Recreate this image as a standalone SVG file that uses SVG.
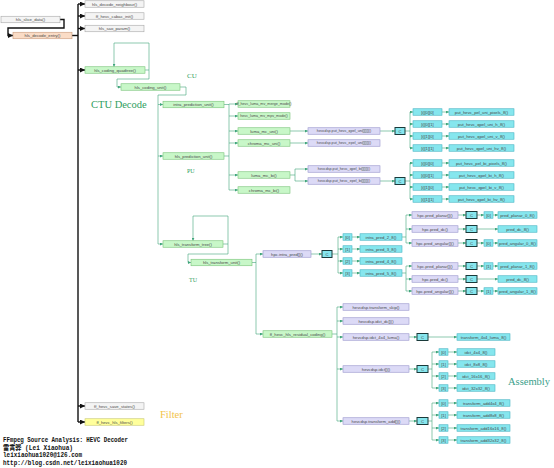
<svg xmlns="http://www.w3.org/2000/svg" width="554" height="468" viewBox="0 0 554 468">
<style>
rect{stroke-width:0.6}
.g{fill:#f4f4f4;stroke:#a8a8a8}
.o{fill:#fadcc6;stroke:#c89a7a}
.gr{fill:#c8f7c8;stroke:#78c478}
.p{fill:#dcdaf6;stroke:#9894cc}
.c{fill:#86e6ee;stroke:#48b4c4}
.cc{fill:#86e6ee;stroke:#1a3a3a;stroke-width:1}
.y{fill:#ffff9c;stroke:#c8c870}
text.t{font-family:"Liberation Sans",Arial,sans-serif;font-size:4.2px;fill:#4a4a4a;text-anchor:middle}
text.s{font-size:3.7px}
.lbl{font-family:"Liberation Serif","Times New Roman",serif;fill:#2f9e5e}
.ft{font-family:"Liberation Mono","Noto Sans CJK SC",monospace;font-size:7px;font-weight:bold;fill:#111}
.k{fill:none;stroke:#111;stroke-width:1.4}
.l{fill:none;stroke:#3fa57a;stroke-width:0.6}
.ka{fill:none;stroke:#111;stroke-width:1.4;marker-end:url(#ab)}
.la{fill:none;stroke:#3fa57a;stroke-width:0.6;marker-end:url(#ag)}
</style>
<defs>
<marker id="ab" viewBox="0 0 6 6" refX="6" refY="3" markerWidth="5" markerHeight="5" markerUnits="userSpaceOnUse" orient="auto"><path d="M0,0 L6,3 L0,6 z" fill="#111"/></marker>
<marker id="ag" viewBox="0 0 6 6" refX="6" refY="3" markerWidth="3" markerHeight="3" markerUnits="userSpaceOnUse" orient="auto"><path d="M0,0 L6,3 L0,6 z" fill="#3fa57a"/></marker>
</defs>
<rect width="554" height="468" fill="#fff"/>

<g id="connectors">
<path class="k" d="M78,4 V422"/>
<path class="ka" d="M78,4 H85"/><path class="ka" d="M78,16 H85"/><path class="ka" d="M78,28.5 H85"/><path class="ka" d="M78,70 H85"/><path class="ka" d="M78,406 H85"/><path class="ka" d="M78,422 H85"/>
<path class="k" d="M72,35.5 H78"/>
<path class="ka" d="M60,19.5 H64 V28 H8 V35.5 H13"/>

<path class="la" d="M145,70 H149 V43 H114 V66.75"/>
<path class="la" d="M149,70 V79 H117 V87 H121"/>
<path class="l" d="M180,87 H186 V95 H158 V244"/>
<path class="la" d="M158,104.5 H163"/><path class="la" d="M158,156 H163"/><path class="la" d="M158,244 H163"/>

<path class="l" d="M224,156 H229 M224,104.5 H229 M229,104 V190"/>
<path class="la" d="M229,104 H238"/><path class="la" d="M229,116 H238"/><path class="la" d="M229,131 H238"/><path class="la" d="M229,143 H238"/><path class="la" d="M229,175 H238"/><path class="la" d="M229,190 H238"/>
<path class="la" d="M290,131 H308"/><path class="la" d="M290,143 H308"/>
<path class="l" d="M290,175 H295 M295,169 V181"/>
<path class="la" d="M295,169 H308"/><path class="la" d="M295,181 H308"/>
<path class="la" d="M380,131 H395"/><path class="la" d="M380,181 H395"/>
<path class="l" d="M405,131 H410 M410,112 V148 M405,181 H410 M410,163 V199"/>
<path class="la" d="M410,112 H413"/><path class="la" d="M410,124 H413"/><path class="la" d="M410,136 H413"/><path class="la" d="M410,148 H413"/>
<path class="la" d="M410,163 H413"/><path class="la" d="M410,175 H413"/><path class="la" d="M410,187 H413"/><path class="la" d="M410,199 H413"/>
<path class="la" d="M442,112 H449"/><path class="la" d="M442,124 H449"/><path class="la" d="M442,136 H449"/><path class="la" d="M442,148 H449"/>
<path class="la" d="M442,163 H449"/><path class="la" d="M442,175 H449"/><path class="la" d="M442,187 H449"/><path class="la" d="M442,199 H449"/>

<path class="la" d="M223,244 H228 V216 H193 V240.75"/>
<path class="la" d="M228,244 V254 H188 V262.5 H191"/>
<path class="l" d="M252,262.5 H256 M256,254 V334"/>
<path class="la" d="M256,254 H263"/><path class="la" d="M256,334 H263"/>
<path class="la" d="M311,254 H322"/>
<path class="l" d="M332,254 H338 M338,237 V273"/>
<path class="la" d="M338,237 H343"/><path class="la" d="M338,249 H343"/><path class="la" d="M338,261 H343"/><path class="la" d="M338,273 H343"/>
<path class="la" d="M352,237 H360"/><path class="la" d="M352,249 H360"/><path class="la" d="M352,261 H360"/><path class="la" d="M352,273 H360"/>
<path class="l" d="M402,237 H406 M406,215 V243 M402,273 H406 M406,266 V291"/>
<path class="la" d="M406,215 H412"/><path class="la" d="M406,229 H412"/><path class="la" d="M406,243 H412"/>
<path class="la" d="M406,266 H412"/><path class="la" d="M406,279 H412"/><path class="la" d="M406,291 H412"/>
<path class="la" d="M458,215 H466"/><path class="la" d="M458,229 H466"/><path class="la" d="M458,243 H466"/>
<path class="la" d="M458,266 H466"/><path class="la" d="M458,279 H466"/><path class="la" d="M458,291 H466"/>
<path class="la" d="M477,215 H484"/><path class="la" d="M493,215 H498"/>
<path class="la" d="M477,229 H498"/>
<path class="la" d="M477,243 H484"/><path class="la" d="M493,243 H498"/>
<path class="la" d="M477,266 H484"/><path class="la" d="M493,266 H498"/>
<path class="la" d="M477,279 H498"/>
<path class="la" d="M477,291 H484"/><path class="la" d="M493,291 H498"/>

<path class="l" d="M332,334 H337 M337,307 V421"/>
<path class="la" d="M337,307 H343"/><path class="la" d="M337,321 H343"/><path class="la" d="M337,337 H343"/><path class="la" d="M337,369 H343"/><path class="la" d="M337,421 H343"/>
<path class="la" d="M409,337 H417"/><path class="la" d="M428,337 H457"/>
<path class="la" d="M409,369 H417"/><path class="la" d="M409,421 H417"/>
<path class="l" d="M428,369 H432 M432,352 V388 M428,421 H432 M432,403 V440"/>
<path class="la" d="M432,352 H439"/><path class="la" d="M432,364 H439"/><path class="la" d="M432,376 H439"/><path class="la" d="M432,388 H439"/>
<path class="la" d="M448,352 H457"/><path class="la" d="M448,364 H457"/><path class="la" d="M448,376 H457"/><path class="la" d="M448,388 H457"/>
<path class="la" d="M432,403 H439"/><path class="la" d="M432,415 H439"/><path class="la" d="M432,428 H439"/><path class="la" d="M432,440 H439"/>
<path class="la" d="M448,403 H457"/><path class="la" d="M448,415 H457"/><path class="la" d="M448,428 H457"/><path class="la" d="M448,440 H457"/>
</g>

<g id="slice_data"><rect class="g" x="1" y="16.25" width="59" height="6.5"/><text class="t" x="30.5" y="21.1">hls_slice_data()</text></g>
<g id="decode_entry"><rect class="o" x="13" y="32.25" width="59" height="6.5"/><text class="t" x="42.5" y="37.1">hls_decode_entry()</text></g>
<g id="decode_neighbour"><rect class="g" x="85" y="0.75" width="59" height="6.5"/><text class="t" x="114.5" y="5.6">hls_decode_neighbour()</text></g>
<g id="cabac_init"><rect class="g" x="85" y="12.75" width="59" height="6.5"/><text class="t" x="114.5" y="17.6">ff_hevc_cabac_init()</text></g>
<g id="sao_param"><rect class="g" x="85" y="25.25" width="59" height="6.5"/><text class="t" x="114.5" y="30.1">hls_sao_param()</text></g>
<g id="coding_quadtree"><rect class="gr" x="85" y="66.75" width="60" height="6.5"/><text class="t" x="115" y="71.6">hls_coding_quadtree()</text></g>
<g id="coding_unit"><rect class="gr" x="121" y="83.75" width="59" height="6.5"/><text class="t" x="150.5" y="88.6">hls_coding_unit()</text></g>
<g id="intra_prediction_unit"><rect class="gr" x="163" y="101.25" width="61" height="6.5"/><text class="t" x="193.5" y="106.1">intra_prediction_unit()</text></g>
<g id="prediction_unit"><rect class="gr" x="163" y="152.75" width="61" height="6.5"/><text class="t" x="193.5" y="157.6">hls_prediction_unit()</text></g>
<g id="mv_merge_mode"><rect class="gr" x="238" y="100.75" width="52" height="6.5"/><text class="t s" x="264" y="105.4">ff_hevc_luma_mv_merge_mode()</text></g>
<g id="mv_mvp_mode"><rect class="gr" x="238" y="112.75" width="52" height="6.5"/><text class="t s" x="264" y="117.4">hevc_luma_mv_mpv_mode()</text></g>
<g id="luma_mc_uni"><rect class="gr" x="238" y="127.75" width="52" height="6.5"/><text class="t" x="264" y="132.6">luma_mc_uni()</text></g>
<g id="chroma_mc_uni"><rect class="gr" x="238" y="139.75" width="52" height="6.5"/><text class="t" x="264" y="144.6">chroma_mc_uni()</text></g>
<g id="luma_mc_bi"><rect class="gr" x="238" y="171.75" width="52" height="6.5"/><text class="t" x="264" y="176.6">luma_mc_bi()</text></g>
<g id="chroma_mc_bi"><rect class="gr" x="238" y="186.75" width="52" height="6.5"/><text class="t" x="264" y="191.6">chroma_mc_bi()</text></g>
<g id="qpel_uni"><rect class="p" x="308" y="127.75" width="72" height="6.5"/><text class="t s" x="344" y="132.4">hevcdsp.put_hevc_qpel_uni[][][]()</text></g>
<g id="epel_uni"><rect class="p" x="308" y="139.75" width="72" height="6.5"/><text class="t s" x="344" y="144.4">hevcdsp.put_hevc_epel_uni[][][]()</text></g>
<g id="qpel_bi"><rect class="p" x="308" y="165.75" width="72" height="6.5"/><text class="t s" x="344" y="170.4">hevcdsp.put_hevc_qpel_bi[][][]()</text></g>
<g id="epel_bi"><rect class="p" x="308" y="177.75" width="72" height="6.5"/><text class="t s" x="344" y="182.4">hevcdsp.put_hevc_epel_bi[][][]()</text></g>
<g id="c_uni"><rect class="cc" x="395" y="127.5" width="10" height="7"/><text class="t" x="400" y="132.6">C</text></g>
<g id="c_bi"><rect class="cc" x="395" y="177.5" width="10" height="7"/><text class="t" x="400" y="182.6">C</text></g>
<g id="uni_000"><rect class="c" x="413" y="108.75" width="29" height="6.5"/><text class="t" x="427.5" y="113.6">[i][0][0]</text></g>
<g id="uni_001"><rect class="c" x="413" y="120.75" width="29" height="6.5"/><text class="t" x="427.5" y="125.6">[i][0][1]</text></g>
<g id="uni_010"><rect class="c" x="413" y="132.75" width="29" height="6.5"/><text class="t" x="427.5" y="137.6">[i][1][0]</text></g>
<g id="uni_011"><rect class="c" x="413" y="144.75" width="29" height="6.5"/><text class="t" x="427.5" y="149.6">[i][1][1]</text></g>
<g id="uni_pixels"><rect class="c" x="449" y="108.75" width="65" height="6.5"/><text class="t" x="481.5" y="113.6">put_hevc_pel_uni_pixels_8()</text></g>
<g id="uni_h"><rect class="c" x="449" y="120.75" width="65" height="6.5"/><text class="t" x="481.5" y="125.6">put_hevc_qpel_uni_h_8()</text></g>
<g id="uni_v"><rect class="c" x="449" y="132.75" width="65" height="6.5"/><text class="t" x="481.5" y="137.6">put_hevc_qpel_uni_v_8()</text></g>
<g id="uni_hv"><rect class="c" x="449" y="144.75" width="65" height="6.5"/><text class="t" x="481.5" y="149.6">put_hevc_qpel_uni_hv_8()</text></g>
<g id="bi_000"><rect class="c" x="413" y="159.75" width="29" height="6.5"/><text class="t" x="427.5" y="164.6">[i][0][0]</text></g>
<g id="bi_001"><rect class="c" x="413" y="171.75" width="29" height="6.5"/><text class="t" x="427.5" y="176.6">[i][0][1]</text></g>
<g id="bi_010"><rect class="c" x="413" y="183.75" width="29" height="6.5"/><text class="t" x="427.5" y="188.6">[i][1][0]</text></g>
<g id="bi_011"><rect class="c" x="413" y="195.75" width="29" height="6.5"/><text class="t" x="427.5" y="200.6">[i][1][1]</text></g>
<g id="bi_pixels"><rect class="c" x="449" y="159.75" width="65" height="6.5"/><text class="t" x="481.5" y="164.6">put_hevc_pel_bi_pixels_8()</text></g>
<g id="bi_h"><rect class="c" x="449" y="171.75" width="65" height="6.5"/><text class="t" x="481.5" y="176.6">put_hevc_qpel_bi_h_8()</text></g>
<g id="bi_v"><rect class="c" x="449" y="183.75" width="65" height="6.5"/><text class="t" x="481.5" y="188.6">put_hevc_qpel_bi_v_8()</text></g>
<g id="bi_hv"><rect class="c" x="449" y="195.75" width="65" height="6.5"/><text class="t" x="481.5" y="200.6">put_hevc_qpel_bi_hv_8()</text></g>

<g id="transform_tree"><rect class="gr" x="163" y="240.75" width="60" height="6.5"/><text class="t" x="193" y="245.6">hls_transform_tree()</text></g>
<g id="transform_unit"><rect class="gr" x="191" y="259.25" width="61" height="6.5"/><text class="t" x="221.5" y="264.1">hls_transform_unit()</text></g>
<g id="intra_pred"><rect class="p" x="263" y="250.75" width="48" height="6.5"/><text class="t" x="287" y="255.6">hpc.intra_pred[]()</text></g>
<g id="c_intra"><rect class="cc" x="322" y="250.5" width="10" height="7"/><text class="t" x="327" y="255.6">C</text></g>
<g id="ip_i0"><rect class="c" x="343" y="233.75" width="9" height="6.5"/><text class="t" x="347.5" y="238.6">[0]</text></g>
<g id="ip_i1"><rect class="c" x="343" y="245.75" width="9" height="6.5"/><text class="t" x="347.5" y="250.6">[1]</text></g>
<g id="ip_i2"><rect class="c" x="343" y="257.75" width="9" height="6.5"/><text class="t" x="347.5" y="262.6">[2]</text></g>
<g id="ip_i3"><rect class="c" x="343" y="269.75" width="9" height="6.5"/><text class="t" x="347.5" y="274.6">[3]</text></g>
<g id="intra_pred_2"><rect class="c" x="360" y="233.75" width="42" height="6.5"/><text class="t" x="381" y="238.6">intra_pred_2_8()</text></g>
<g id="intra_pred_3"><rect class="c" x="360" y="245.75" width="42" height="6.5"/><text class="t" x="381" y="250.6">intra_pred_3_8()</text></g>
<g id="intra_pred_4"><rect class="c" x="360" y="257.75" width="42" height="6.5"/><text class="t" x="381" y="262.6">intra_pred_4_8()</text></g>
<g id="intra_pred_5"><rect class="c" x="360" y="269.75" width="42" height="6.5"/><text class="t" x="381" y="274.6">intra_pred_5_8()</text></g>

<g id="pred_planar_a"><rect class="p" x="412" y="211.75" width="46" height="6.5"/><text class="t" x="435" y="216.6">hpc.pred_planar[]()</text></g>
<g id="pred_dc_a"><rect class="p" x="412" y="225.75" width="46" height="6.5"/><text class="t" x="435" y="230.6">hpc.pred_dc()</text></g>
<g id="pred_angular_a"><rect class="p" x="412" y="239.75" width="46" height="6.5"/><text class="t" x="435" y="244.6">hpc.pred_angular[]()</text></g>
<g id="pred_planar_b"><rect class="p" x="412" y="262.75" width="46" height="6.5"/><text class="t" x="435" y="267.6">hpc.pred_planar[]()</text></g>
<g id="pred_dc_b"><rect class="p" x="412" y="275.75" width="46" height="6.5"/><text class="t" x="435" y="280.6">hpc.pred_dc()</text></g>
<g id="pred_angular_b"><rect class="p" x="412" y="287.75" width="46" height="6.5"/><text class="t" x="435" y="292.6">hpc.pred_angular[]()</text></g>
<g id="c_pa1"><rect class="cc" x="466" y="211.5" width="11" height="7"/><text class="t" x="471.5" y="216.6">C</text></g>
<g id="c_pa2"><rect class="cc" x="466" y="225.5" width="11" height="7"/><text class="t" x="471.5" y="230.6">C</text></g>
<g id="c_pa3"><rect class="cc" x="466" y="239.5" width="11" height="7"/><text class="t" x="471.5" y="244.6">C</text></g>
<g id="c_pb1"><rect class="cc" x="466" y="262.5" width="11" height="7"/><text class="t" x="471.5" y="267.6">C</text></g>
<g id="c_pb2"><rect class="cc" x="466" y="275.5" width="11" height="7"/><text class="t" x="471.5" y="280.6">C</text></g>
<g id="c_pb3"><rect class="cc" x="466" y="287.5" width="11" height="7"/><text class="t" x="471.5" y="292.6">C</text></g>
<g id="pa_i1"><rect class="c" x="484" y="211.75" width="9" height="6.5"/><text class="t" x="488.5" y="216.6">[0]</text></g>
<g id="pa_i3"><rect class="c" x="484" y="239.75" width="9" height="6.5"/><text class="t" x="488.5" y="244.6">[0]</text></g>
<g id="pb_i1"><rect class="c" x="484" y="262.75" width="9" height="6.5"/><text class="t" x="488.5" y="267.6">[1]</text></g>
<g id="pb_i3"><rect class="c" x="484" y="287.75" width="9" height="6.5"/><text class="t" x="488.5" y="292.6">[1]</text></g>
<g id="pred_planar_0"><rect class="c" x="498" y="211.75" width="39" height="6.5"/><text class="t" x="517.5" y="216.6">pred_planar_0_8()</text></g>
<g id="pred_dc_8a"><rect class="c" x="498" y="225.75" width="39" height="6.5"/><text class="t" x="517.5" y="230.6">pred_dc_8()</text></g>
<g id="pred_angular_0"><rect class="c" x="498" y="239.75" width="39" height="6.5"/><text class="t" x="517.5" y="244.6">pred_angular_0_8()</text></g>
<g id="pred_planar_1"><rect class="c" x="498" y="262.75" width="39" height="6.5"/><text class="t" x="517.5" y="267.6">pred_planar_1_8()</text></g>
<g id="pred_dc_8b"><rect class="c" x="498" y="275.75" width="39" height="6.5"/><text class="t" x="517.5" y="280.6">pred_dc_8()</text></g>
<g id="pred_angular_1"><rect class="c" x="498" y="287.75" width="39" height="6.5"/><text class="t" x="517.5" y="292.6">pred_angular_1_8()</text></g>

<g id="residual_coding"><rect class="gr" x="263" y="330.75" width="69" height="6.5"/><text class="t" x="297.5" y="335.6">ff_hevc_hls_residual_coding()</text></g>
<g id="transform_skip"><rect class="p" x="343" y="303.75" width="66" height="6.5"/><text class="t" x="376" y="308.6">hevcdsp.transform_skip()</text></g>
<g id="idct_dc"><rect class="p" x="343" y="317.75" width="66" height="6.5"/><text class="t" x="376" y="322.6">hevcdsp.idct_dc[]()</text></g>
<g id="idct_4x4_luma"><rect class="p" x="343" y="333.75" width="66" height="6.5"/><text class="t" x="376" y="338.6">hevcdsp.idct_4x4_luma()</text></g>
<g id="idct"><rect class="p" x="343" y="365.75" width="66" height="6.5"/><text class="t" x="376" y="370.6">hevcdsp.idct[]()</text></g>
<g id="transform_add"><rect class="p" x="343" y="417.75" width="66" height="6.5"/><text class="t" x="376" y="422.6">hevcdsp.transform_add[]()</text></g>
<g id="c_luma"><rect class="cc" x="417" y="333.5" width="11" height="7"/><text class="t" x="422.5" y="338.6">C</text></g>
<g id="c_idct"><rect class="cc" x="417" y="365.5" width="11" height="7"/><text class="t" x="422.5" y="370.6">C</text></g>
<g id="c_add"><rect class="cc" x="417" y="417.5" width="11" height="7"/><text class="t" x="422.5" y="422.6">C</text></g>
<g id="transform_4x4_luma"><rect class="c" x="457" y="333.75" width="53" height="6.5"/><text class="t" x="483.5" y="338.6">transform_4x4_luma_8()</text></g>
<g id="idct_i0"><rect class="c" x="439" y="348.75" width="9" height="6.5"/><text class="t" x="443.5" y="353.6">[0]</text></g>
<g id="idct_i1"><rect class="c" x="439" y="360.75" width="9" height="6.5"/><text class="t" x="443.5" y="365.6">[1]</text></g>
<g id="idct_i2"><rect class="c" x="439" y="372.75" width="9" height="6.5"/><text class="t" x="443.5" y="377.6">[2]</text></g>
<g id="idct_i3"><rect class="c" x="439" y="384.75" width="9" height="6.5"/><text class="t" x="443.5" y="389.6">[3]</text></g>
<g id="idct_4x4"><rect class="c" x="457" y="348.75" width="38" height="6.5"/><text class="t" x="476" y="353.6">idct_4x4_8()</text></g>
<g id="idct_8x8"><rect class="c" x="457" y="360.75" width="38" height="6.5"/><text class="t" x="476" y="365.6">idct_8x8_8()</text></g>
<g id="idct_16x16"><rect class="c" x="457" y="372.75" width="38" height="6.5"/><text class="t" x="476" y="377.6">idct_16x16_8()</text></g>
<g id="idct_32x32"><rect class="c" x="457" y="384.75" width="38" height="6.5"/><text class="t" x="476" y="389.6">idct_32x32_8()</text></g>
<g id="add_i0"><rect class="c" x="439" y="399.75" width="9" height="6.5"/><text class="t" x="443.5" y="404.6">[0]</text></g>
<g id="add_i1"><rect class="c" x="439" y="411.75" width="9" height="6.5"/><text class="t" x="443.5" y="416.6">[1]</text></g>
<g id="add_i2"><rect class="c" x="439" y="424.75" width="9" height="6.5"/><text class="t" x="443.5" y="429.6">[2]</text></g>
<g id="add_i3"><rect class="c" x="439" y="436.75" width="9" height="6.5"/><text class="t" x="443.5" y="441.6">[3]</text></g>
<g id="add_4x4"><rect class="c" x="457" y="399.75" width="53" height="6.5"/><text class="t" x="483.5" y="404.6">transform_add4x4_8()</text></g>
<g id="add_8x8"><rect class="c" x="457" y="411.75" width="53" height="6.5"/><text class="t" x="483.5" y="416.6">transform_add8x8_8()</text></g>
<g id="add_16x16"><rect class="c" x="457" y="424.75" width="53" height="6.5"/><text class="t" x="483.5" y="429.6">transform_add16x16_8()</text></g>
<g id="add_32x32"><rect class="c" x="457" y="436.75" width="53" height="6.5"/><text class="t" x="483.5" y="441.6">transform_add32x32_8()</text></g>

<g id="save_states"><rect class="g" x="85" y="402.75" width="59" height="6.5"/><text class="t" x="114.5" y="407.6">ff_hevc_save_states()</text></g>
<g id="hls_filters"><rect class="y" x="85" y="418.75" width="59" height="6.5"/><text class="t" x="114.5" y="423.6">ff_hevc_hls_filters()</text></g>

<g id="labels">
<text class="lbl" x="91" y="108" font-size="10.5">CTU Decode</text>
<text class="lbl" x="187" y="78" font-size="7">CU</text>
<text class="lbl" x="187" y="173" font-size="6">PU</text>
<text class="lbl" x="189" y="282" font-size="6">TU</text>
<text class="lbl" x="508" y="385" font-size="10.5" style="fill:#3aa08a">Assembly</text>
<text x="160" y="418" font-size="10.5" style="font-family:'Liberation Serif',serif;fill:#f2c248">Filter</text>
</g>
<g id="footer">
<text class="ft" x="3" y="442" textLength="125" lengthAdjust="spacingAndGlyphs">FFmpeg Source Analysis: HEVC Decoder</text>
<text class="ft" x="3" y="449.5" textLength="70" lengthAdjust="spacingAndGlyphs">雷霄骅 (Lei Xiaohua)</text>
<text class="ft" x="3" y="457" textLength="79" lengthAdjust="spacingAndGlyphs">leixiaohua1020@126.com</text>
<text class="ft" x="3" y="464.5" textLength="124" lengthAdjust="spacingAndGlyphs">http://blog.csdn.net/leixiaohua1020</text>
</g>
</svg>
